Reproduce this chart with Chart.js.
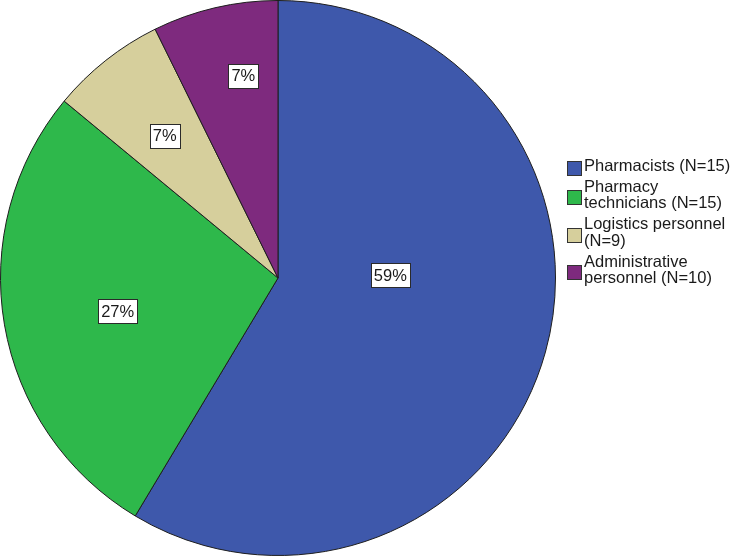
<!DOCTYPE html>
<html>
<head>
<meta charset="utf-8">
<script src="https://cdn.jsdelivr.net/npm/chart.js@4.4.1/dist/chart.umd.min.js"></script>
<style>
  html, body { margin: 0; padding: 0; background: #ffffff; }
  #wrap { width: 733px; height: 559px; }
</style>
</head>
<body>
<div id="wrap"><canvas id="c" width="733" height="559"></canvas></div>
<script>
// ---- data ----
const categories = ['Pharmacists (N=15)', 'Pharmacy technicians (N=15)', 'Logistics personnel (N=9)', 'Administrative personnel (N=10)'];
const shares = [58.6, 27.4, 6.7, 7.3];
const shareLabels = ['59%', '27%', '7%', '7%'];
const sliceColors = ['#3e58ab', '#2eb84b', '#d6cf9c', '#7e2a7e'];

// label placement inside each slice (fraction along the arc, fraction of radius)
const labelAngleFrac = [0.42, 0.48, 0.49, 0.63];
const labelRadiusFrac = [0.405, 0.59, 0.655, 0.74];

const FONT = '16.5px "Liberation Sans", Arial, sans-serif';

const sliceLabels = {
  id: 'sliceLabels',
  afterDatasetsDraw(chart) {
    const ctx = chart.ctx;
    const meta = chart.getDatasetMeta(0);
    ctx.save();
    ctx.font = FONT;
    ctx.textAlign = 'center';
    ctx.textBaseline = 'middle';
    meta.data.forEach((arc, i) => {
      const p = arc.getProps(['x', 'y', 'startAngle', 'endAngle', 'outerRadius'], true);
      const a = p.startAngle + labelAngleFrac[i] * (p.endAngle - p.startAngle);
      const r = labelRadiusFrac[i] * p.outerRadius;
      const cx = p.x + Math.cos(a) * r;
      const cy = p.y + Math.sin(a) * r;
      const txt = shareLabels[i];
      const w = Math.round(ctx.measureText(txt).width) + 6;
      const h = 24;
      const x0 = Math.round(cx - w / 2) + 0.5;
      const y0 = Math.round(cy - h / 2) + 0.5;
      ctx.fillStyle = '#ffffff';
      ctx.fillRect(x0, y0, w, h);
      ctx.strokeStyle = '#2a2a2a';
      ctx.lineWidth = 1;
      ctx.strokeRect(x0, y0, w, h);
      ctx.fillStyle = '#1a1a1a';
      ctx.fillText(txt, cx, cy + 1);
    });
    ctx.restore();
  }
};

function wrapText(ctx, text, maxW) {
  const words = text.split(' ');
  const lines = [];
  let cur = '';
  words.forEach(w => {
    const test = cur ? cur + ' ' + w : w;
    if (ctx.measureText(test).width > maxW && cur) {
      lines.push(cur);
      cur = w;
    } else {
      cur = test;
    }
  });
  if (cur) lines.push(cur);
  return lines;
}

const sideLegend = {
  id: 'sideLegend',
  afterDraw(chart) {
    const ctx = chart.ctx;
    ctx.save();
    ctx.font = FONT;
    ctx.textBaseline = 'middle';
    ctx.textAlign = 'left';
    const boxX = 567, box = 14, textX = 584, lineH = 16.5, gap = 4.5, maxW = 150;
    let y = 166;
    categories.forEach((cat, i) => {
      const lines = wrapText(ctx, cat, maxW);
      const first = y;
      const last = y + (lines.length - 1) * lineH;
      const mid = (first + last) / 2 + 2;
      ctx.fillStyle = sliceColors[i];
      ctx.fillRect(boxX + 0.5, Math.round(mid - box / 2) + 0.5, box, box);
      ctx.strokeStyle = '#333333';
      ctx.lineWidth = 1;
      ctx.strokeRect(boxX + 0.5, Math.round(mid - box / 2) + 0.5, box, box);
      ctx.fillStyle = '#1a1a1a';
      lines.forEach((ln, k) => ctx.fillText(ln, textX, first + k * lineH));
      y = last + lineH + gap;
    });
    ctx.restore();
  }
};

new Chart(document.getElementById('c'), {
  type: 'pie',
  data: {
    labels: categories,
    datasets: [{
      data: shares,
      backgroundColor: sliceColors,
      borderColor: '#1e1e1e',
      borderWidth: 1
    }]
  },
  options: {
    responsive: false,
    animation: false,
    devicePixelRatio: 1,
    layout: { padding: { left: 0, top: 0, right: 177, bottom: 3 } },
    plugins: {
      legend: { display: false },
      tooltip: { enabled: false }
    }
  },
  plugins: [sliceLabels, sideLegend]
});
</script>
</body>
</html>
